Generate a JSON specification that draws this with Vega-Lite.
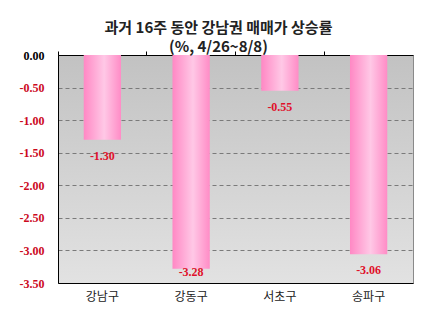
{
  "$schema": "https://vega.github.io/schema/vega-lite/v6.json",
  "width": 355,
  "height": 228,
  "autosize": "none",
  "padding": {"left": 58, "top": 55, "right": 23, "bottom": 38},
  "background": "white",
  "title": {
    "text": ["과거 16주 동안 강남권 매매가 상승률", "(%, 4/26~8/8)"],
    "font": "Noto Sans CJK KR",
    "fontSize": 15,
    "fontWeight": "bold",
    "color": "#222222",
    "lineHeight": 19,
    "anchor": "middle",
    "dx": -17,
    "offset": -6
  },
  "config": {
    "view": {
      "stroke": "#8a8a8a",
      "fill": {
        "gradient": "linear",
        "x1": 0, "y1": 0, "x2": 0, "y2": 1,
        "stops": [{"offset": 0, "color": "#c2c2c2"}, {"offset": 1, "color": "#e2e2e2"}]
      }
    }
  },
  "data": {
    "values": [
      {"gu": "강남구", "rate": -1.30},
      {"gu": "강동구", "rate": -3.28},
      {"gu": "서초구", "rate": -0.55},
      {"gu": "송파구", "rate": -3.06}
    ]
  },
  "encoding": {
    "x": {"field": "gu", "type": "nominal", "sort": null, "scale": {"paddingInner": 0, "paddingOuter": 0}},
    "y": {"field": "rate", "type": "quantitative", "scale": {"domain": [-3.5, 0], "nice": false, "zero": false}}
  },
  "layer": [
    {
      "mark": {
        "type": "bar",
        "width": {"band": 0.42},
        "color": {
          "gradient": "linear",
          "x1": 0, "y1": 0, "x2": 1, "y2": 0,
          "stops": [
            {"offset": 0, "color": "#ff88c4"},
            {"offset": 0.55, "color": "#ffc8e6"},
            {"offset": 1, "color": "#ff8cc6"}
          ]
        }
      },
      "encoding": {
        "x": {
          "field": "gu", "type": "nominal", "sort": null, "title": null,
          "axis": {
            "orient": "bottom",
            "domain": true, "domainColor": "#000000",
            "ticks": false,
            "labelAngle": 0,
            "labelFont": "Noto Sans CJK KR",
            "labelFontSize": 12,
            "labelColor": "#222222",
            "labelPadding": 8
          }
        },
        "y": {
          "field": "rate", "type": "quantitative", "title": null,
          "axis": {
            "values": [0, -0.5, -1, -1.5, -2, -2.5, -3, -3.5],
            "tickCount": 20,
            "labelExpr": "replace(format(datum.value, '.2f'), '\u2212', '-')",
            "labelOverlap": false,
            "labelFlush": false,
            "labelBound": false,
            "domain": true, "domainColor": "#000000",
            "ticks": false,
            "labelPadding": 14,
            "labelFont": "Liberation Serif",
            "labelFontWeight": "bold",
            "labelFontSize": 12,
            "labelColor": {"condition": {"test": "datum.value == 0", "value": "#000000"}, "value": "#cc0a1e"},
            "grid": true,
            "gridColor": "#7a7a7a",
            "gridDash": [4, 3],
            "gridWidth": 1
          }
        }
      }
    },
    {
      "mark": {
        "type": "text",
        "font": "Liberation Serif",
        "fontWeight": "bold",
        "fontSize": 12,
        "color": "#e0102a",
        "baseline": "middle",
        "text": {"expr": "replace(format(datum.rate, '.2f'), '\u2212', '-')"},
        "dy": {"expr": "datum.rate < -3.2 ? 3 : 16"}
      },
      "encoding": {
        "x": {
          "field": "gu", "type": "nominal", "sort": null, "title": null,
          "axis": {
            "orient": "top",
            "labels": false,
            "ticks": true, "tickSize": 4, "tickColor": "#000000", "bandPosition": 0,
            "domain": true, "domainColor": "#000000",
            "minExtent": 0, "maxExtent": 4
          }
        }
      }
    }
  ],
  "resolve": {"axis": {"x": "independent"}}
}
